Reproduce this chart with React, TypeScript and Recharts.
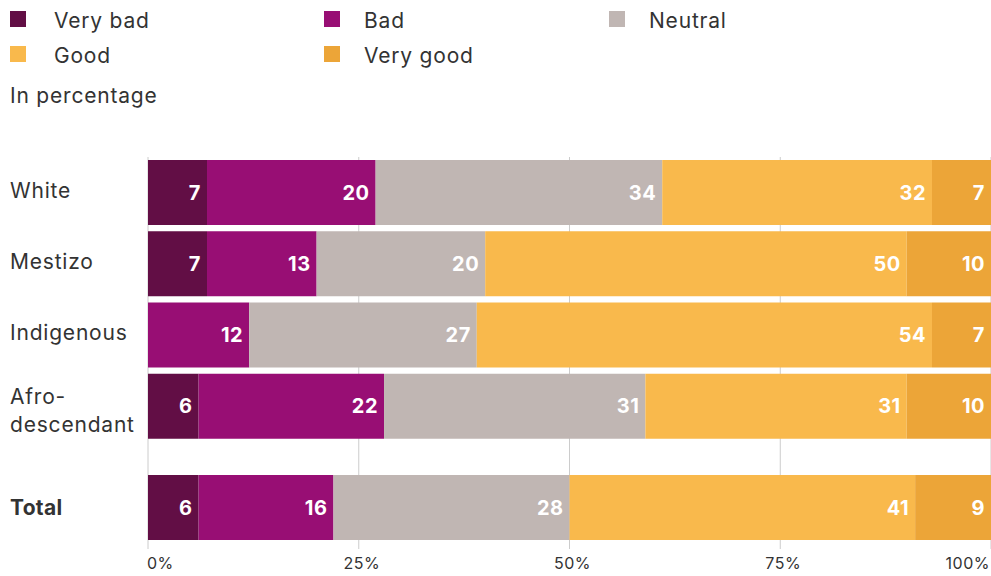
import React from 'react';
import { BarChart, Bar, XAxis, YAxis, CartesianGrid, LabelList } from 'recharts';

// Groups and their answer shares (percent)
const groups = ['White', 'Mestizo', 'Indigenous', 'Afro-descendant'];
const veryBad = [7, 7, 0, 6];
const bad = [20, 13, 12, 22];
const neutral = [34, 20, 27, 31];
const good = [32, 50, 54, 31];
const veryGood = [7, 10, 7, 10];

const totalLabel = 'Total';
const totalValues = [6, 16, 28, 41, 9];

const xTicks = [0, 25, 50, 75, 100];

const series = [
  { key: 'veryBad', name: 'Very bad', color: '#620e45' },
  { key: 'bad', name: 'Bad', color: '#980e74' },
  { key: 'neutral', name: 'Neutral', color: '#c0b6b3' },
  { key: 'good', name: 'Good', color: '#f9b94c' },
  { key: 'veryGood', name: 'Very good', color: '#eca538' },
];

const groupRows = groups.map((g, i) => ({
  group: g,
  veryBad: veryBad[i],
  bad: bad[i],
  neutral: neutral[i],
  good: good[i],
  veryGood: veryGood[i],
}));

const totalRows = [
  series.reduce((row: any, s, i) => ({ ...row, [s.key]: totalValues[i] }), { group: totalLabel }),
];

const FONT = 'Inter, "Open Sans", sans-serif';
const TEXT = '#333333';
const GRID = '#cccccc';
const SPACING = 0.8;

const W = 991;
const Y_AXIS_W = 148;

const CategoryTick = (props: any) => {
  const { y, payload } = props;
  const label: string = payload.value;
  const bold = label === totalLabel;
  const lines = label.includes('-') ? [label.slice(0, label.indexOf('-') + 1), label.slice(label.indexOf('-') + 1)] : [label];
  const lh = 28;
  const shift = bold ? 0 : lines.length > 1 ? 4 : -2;
  const start = y + shift - ((lines.length - 1) * lh) / 2;
  return (
    <text
      x={10}
      y={start}
      textAnchor="start"
      fill={TEXT}
      fontSize={21}
      fontFamily={FONT}
      fontWeight={bold ? 700 : 400}
      letterSpacing={bold ? 0.3 : SPACING}
    >
      {lines.map((l, i) => (
        <tspan key={i} x={10} y={start + i * lh} dy="0.35em">
          {l}
        </tspan>
      ))}
    </text>
  );
};

const PercentTick = (props: any) => {
  const { x, y, payload } = props;
  const v = payload.value;
  const anchor = v === 0 ? 'start' : v === 100 ? 'end' : 'middle';
  const dx = v === 0 ? -1 : v === 100 ? -1 : 3;
  return (
    <text
      x={x + dx}
      y={y + 1}
      dy="0.71em"
      textAnchor={anchor}
      fill={TEXT}
      fontSize={16}
      fontFamily={FONT}
      letterSpacing={0.5}
    >
      {`${v}%`}
    </text>
  );
};

const valueLabel = (props: any) => {
  const { x, y, width, height, value } = props;
  if (!value) return null;
  return (
    <text
      x={x + width - 6}
      y={y + height / 2}
      dy="0.35em"
      textAnchor="end"
      fill="#ffffff"
      fontSize={20}
      fontWeight={700}
      fontFamily={FONT}
      letterSpacing={0.5}
    >
      {value}
    </text>
  );
};

const renderBars = () =>
  series.map((s) => (
    <Bar key={s.key} dataKey={s.key} name={s.name} stackId="a" fill={s.color} barSize={65} isAnimationActive={false}>
      <LabelList dataKey={s.key} content={valueLabel} />
    </Bar>
  ));

const Legend = () => {
  const cols = [10, 324, 609];
  const rowsY = [20, 55];
  return (
    <>
      {series.map((s, i) => {
        const col = i % 3;
        const row = Math.floor(i / 3);
        return (
          <div
            key={s.key}
            style={{ position: 'absolute', left: cols[col], top: rowsY[row] - 12, height: 24, display: 'flex', alignItems: 'center' }}
          >
            <span style={{ width: 16, height: 16, background: s.color, display: 'inline-block', marginTop: -2 }} />
            <span
              style={{
                marginLeft: col === 0 ? 28 : 24,
                fontSize: 21,
                color: TEXT,
                fontFamily: FONT,
                letterSpacing: SPACING,
              }}
            >
              {s.name}
            </span>
          </div>
        );
      })}
      <div
        style={{
          position: 'absolute',
          left: 10,
          top: 84,
          fontSize: 21,
          color: TEXT,
          fontFamily: FONT,
          lineHeight: '24px',
          letterSpacing: SPACING,
        }}
      >
        In percentage
      </div>
    </>
  );
};

export default function App() {
  return (
    <div style={{ position: 'absolute', left: 0, top: 0, width: W, height: 576, background: '#fff', overflow: 'hidden' }}>
      <Legend />
      <div style={{ position: 'absolute', left: 0, top: 0 }}>
        <BarChart
          width={W}
          height={442}
          data={groupRows}
          layout="vertical"
          margin={{ top: 157, right: 0, bottom: 0, left: 0 }}
          barCategoryGap={0}
        >
          <CartesianGrid horizontal={false} stroke={GRID} strokeWidth={1} />
          <XAxis type="number" domain={[0, 100]} ticks={xTicks} hide />
          <YAxis
            type="category"
            dataKey="group"
            width={Y_AXIS_W}
            axisLine={false}
            tickLine={false}
            tick={<CategoryTick />}
            interval={0}
          />
          {renderBars()}
        </BarChart>
      </div>
      <div style={{ position: 'absolute', left: 0, top: 442 }}>
        <BarChart
          width={W}
          height={134}
          data={totalRows}
          layout="vertical"
          margin={{ top: 0, right: 0, bottom: 0, left: 0 }}
          barCategoryGap={0}
        >
          <CartesianGrid horizontal={false} stroke={GRID} strokeWidth={1} />
          <XAxis
            type="number"
            domain={[0, 100]}
            ticks={xTicks}
            axisLine={false}
            tickLine={false}
            height={27}
            tick={<PercentTick />}
            interval={0}
          />
          <YAxis
            type="category"
            dataKey="group"
            width={Y_AXIS_W}
            axisLine={false}
            tickLine={false}
            tick={<CategoryTick />}
            padding={{ top: 30, bottom: 6 }}
          />
          {renderBars()}
        </BarChart>
      </div>
    </div>
  );
}
